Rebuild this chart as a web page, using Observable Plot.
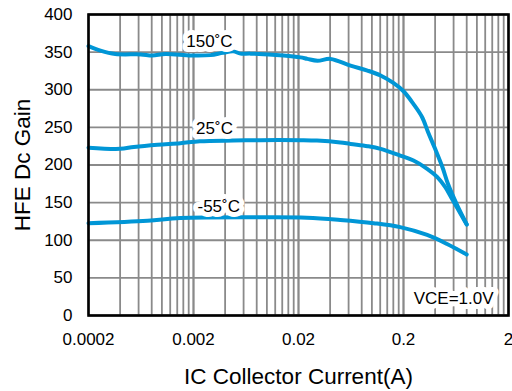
<!DOCTYPE html>
<html><head><meta charset="utf-8">
<script src="https://cdn.jsdelivr.net/npm/d3@7"></script>
<script src="https://cdn.jsdelivr.net/npm/@observablehq/plot@0.6"></script>
<style>
body{margin:0;background:#fff}
#chart svg{font-family:"Liberation Sans",Arial,sans-serif;display:block}
</style>
</head><body><div id="chart"></div>
<script>
// Axis ticks
const xTicks = [0.0002, 0.002, 0.02, 0.2, 2];
const xTickLabels = ["0.0002", "0.002", "0.02", "0.2", "2"];
const yTicks = [0, 50, 100, 150, 200, 250, 300, 350, 400];
const minorMultipliers = [1, 2, 3, 4, 5, 6, 7, 8, 9, 10];

// 150°C curve
const t150X = [0.0002, 0.00026, 0.00036, 0.00063, 0.00081, 0.00108, 0.0019, 0.0029, 0.0038, 0.0048, 0.0056, 0.007, 0.0144, 0.0209, 0.0243, 0.0303, 0.0404, 0.0626, 0.0907, 0.121, 0.16, 0.2, 0.249, 0.301, 0.343, 0.40, 0.47, 0.53, 0.64, 0.8];
const t150Y = [358, 352, 347.5, 347, 345.5, 347.5, 345.5, 346, 349, 351, 348, 348, 345.5, 343, 341, 338.5, 341, 332, 325.5, 319, 309, 298, 281, 263.5, 243.6, 221.5, 197, 175, 148.4, 121];

// 25°C curve
const t25X = [0.0002, 0.0004, 0.00054, 0.00091, 0.0015, 0.0023, 0.0048, 0.0087, 0.021, 0.03, 0.05, 0.0626, 0.091, 0.121, 0.186, 0.249, 0.336, 0.42, 0.5, 0.59, 0.8];
const t25Y = [223, 221.5, 224, 227, 229, 231.5, 232.5, 233, 233, 232.5, 230, 228, 225, 221.5, 212.6, 206, 195, 184, 170.5, 153, 121];

// -55°C curve
const tm55X = [0.0002, 0.00073, 0.0015, 0.0087, 0.024, 0.05, 0.104, 0.186, 0.336, 0.52, 0.8];
const tm55Y = [122.7, 126, 129.5, 130.5, 130, 127, 122.7, 117.4, 107, 95, 81];

// Curve labels
const labelText = ["150˚C", "25˚C", "-55˚C", "VCE=1.0V"];
const labelX = [0.00284, 0.00317, 0.00348, 0.6];
const labelY = [363.7, 248.6, 144.5, 22.7];

const series = [
  {name: "150", xs: t150X, ys: t150Y},
  {name: "25", xs: t25X, ys: t25Y},
  {name: "-55", xs: tm55X, ys: tm55Y}
];
const rows = series.flatMap(s => s.xs.map((x, i) => ({x, y: s.ys[i], s: s.name})));
const gridX = xTicks.slice(0, 4).flatMap(t => minorMultipliers.map(k => t * k));
const labels = labelText.map((t, i) => ({text: t, x: labelX[i], y: labelY[i]}));
const xTickRows = xTicks.map((t, i) => ({x: t, label: xTickLabels[i]}));

const chart = Plot.plot({
  width: 512,
  height: 391,
  marginLeft: 88,
  marginRight: 4,
  marginTop: 14,
  marginBottom: 76,
  style: {fontFamily: "Liberation Sans, Arial, sans-serif", background: "white", color: "black"},
  x: {type: "log", domain: [0.0002, 2], axis: null},
  y: {domain: [0, 400]},
  marks: [
    Plot.ruleX(gridX, {stroke: "#8a8a8a", strokeWidth: 1.8}),
    Plot.ruleY(yTicks, {stroke: "#8a8a8a", strokeWidth: 1.8}),
    Plot.line(rows, {x: "x", y: "y", z: "s", stroke: "#0096d6", strokeWidth: 4, curve: "catmull-rom"}),
    Plot.text(labels, {x: "x", y: "y", text: "text", fontSize: 17, fill: "black", stroke: "white", strokeWidth: 10, lineAnchor: "middle"}),
    Plot.frame({stroke: "black", strokeWidth: 2.6}),
    Plot.text(xTickRows, {x: "x", text: "label", frameAnchor: "bottom", dy: 24, fontSize: 17, lineAnchor: "middle", fill: "black"}),
    Plot.axisY({ticks: yTicks, tickSize: 0, tickPadding: 16, fontSize: 17, label: null}),
    Plot.text(["IC Collector Current(A)"], {text: d => d, frameAnchor: "bottom", dy: 61, fontSize: 22.5, textAnchor: "middle", lineAnchor: "middle", fill: "black"}),
    Plot.text(["HFE Dc Gain"], {text: d => d, frameAnchor: "left", dx: -66, rotate: -90, fontSize: 22.5, textAnchor: "middle", lineAnchor: "middle", fill: "black"})
  ]
});
document.getElementById("chart").appendChild(chart);
</script>
</body></html>
